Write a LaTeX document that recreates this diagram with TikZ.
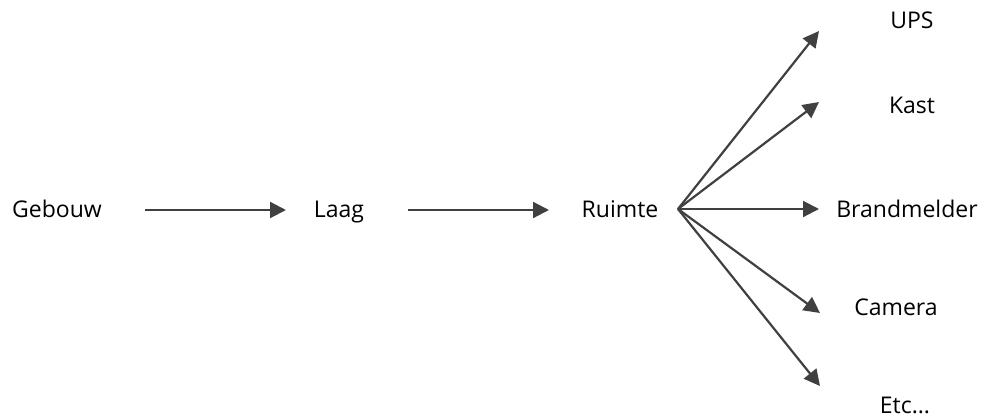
\documentclass[tikz,border=0pt]{standalone}
\usepackage{fontspec}
\setmainfont{Open Sans}
\usetikzlibrary{arrows.meta}
\definecolor{arr}{HTML}{404040}
\begin{document}
\begin{tikzpicture}[x=1pt,y=-1pt,
  lbl/.style={font=\fontsize{23}{27}\selectfont, inner sep=0pt, text=black, anchor=base},
  conn/.style={draw=arr, line width=2.2pt, -{Triangle[length=16pt,width=16pt]}}]
\useasboundingbox (0,0) rectangle (982,418);
\node[lbl] (geb) at (57,217) {Gebouw};
\node[lbl] (laag) at (339,217) {Laag};
\node[lbl] (ruim) at (620,217) {Ruimte};
\node[lbl] (ups) at (912,28) {UPS};
\node[lbl] (kast) at (912,113) {Kast};
\node[lbl] (brand) at (907,217) {Brandmelder};
\node[lbl] (cam) at (896,315) {Camera};
\node[lbl] (etc) at (905,413) {Etc...};
\coordinate (a1s) at (145,210);
\coordinate (a1e) at (286,210);
\coordinate (a2s) at (408,210);
\coordinate (a2e) at (549,210);
\coordinate (hub) at (678,209);
\coordinate (eups) at (819,31);
\coordinate (ekast) at (819,102);
\coordinate (ebr) at (819,209);
\coordinate (ecam) at (820,313);
\coordinate (eetc) at (820,386);
\draw[conn] (a1s) -- (a1e);
\draw[conn] (a2s) -- (a2e);
\draw[conn] (hub) -- (eups);
\draw[conn] (hub) -- (ekast);
\draw[conn] (hub) -- (ebr);
\draw[conn] (hub) -- (ecam);
\draw[conn] (hub) -- (eetc);
\end{tikzpicture}
\end{document}
